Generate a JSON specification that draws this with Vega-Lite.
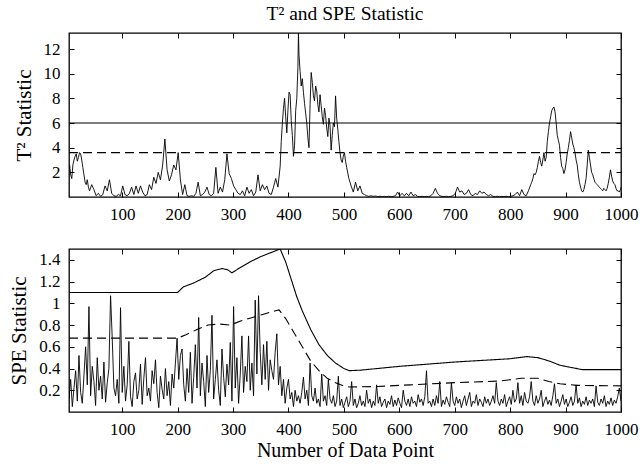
{
  "$schema": "https://vega.github.io/schema/vega-lite/v6.json",
  "background": "white",
  "padding": {"left": 8, "top": 3, "right": 5, "bottom": 3},
  "datasets": {
    "t2": [
      {"x":1,"y":1.9},{"x":5,"y":2.6},{"x":9,"y":1.5},{"x":13,"y":3.0},{"x":17,"y":3.5},{"x":21,"y":3.2},{"x":25,"y":3.5},{"x":29,"y":2.4},{"x":33,"y":1.2},{"x":37,"y":1.4},
      {"x":3,"y":2.1},{"x":7,"y":1.8},{"x":11,"y":2.6},{"x":15,"y":3.3},{"x":19,"y":2.9},{"x":23,"y":3.6},{"x":27,"y":3.0},{"x":31,"y":1.8},{"x":35,"y":1.0},{"x":39,"y":0.8},
      {"x":41,"y":0.5},{"x":45,"y":1.0},{"x":49,"y":0.6},{"x":53,"y":0.1},{"x":57,"y":0.3},{"x":61,"y":0.05},{"x":65,"y":0.2},{"x":69,"y":0.9},{"x":73,"y":0.5},{"x":77,"y":1.4},
      {"x":81,"y":0.3},{"x":85,"y":0.1},{"x":89,"y":0.05},{"x":93,"y":0.2},{"x":97,"y":0.1},{"x":101,"y":0.9},{"x":105,"y":0.2},{"x":109,"y":0.1},{"x":113,"y":0.3},{"x":117,"y":0.8},
      {"x":121,"y":0.2},{"x":125,"y":0.9},{"x":129,"y":0.3},{"x":133,"y":0.9},{"x":137,"y":0.4},{"x":141,"y":0.1},{"x":145,"y":0.2},{"x":149,"y":1.0},{"x":153,"y":0.6},{"x":157,"y":1.6},
      {"x":161,"y":1.1},{"x":165,"y":2.0},{"x":169,"y":1.4},{"x":173,"y":2.6},{"x":177,"y":4.7},{"x":181,"y":2.2},{"x":185,"y":1.3},{"x":189,"y":1.8},{"x":193,"y":2.6},{"x":197,"y":2.2},
      {"x":201,"y":3.6},{"x":205,"y":1.4},{"x":209,"y":0.2},{"x":213,"y":1.0},{"x":217,"y":0.1},{"x":221,"y":0.05},{"x":225,"y":0.1},{"x":229,"y":0.05},{"x":233,"y":0.3},{"x":237,"y":1.2},
      {"x":241,"y":0.1},{"x":245,"y":0.2},{"x":249,"y":0.4},{"x":253,"y":0.8},{"x":257,"y":0.2},{"x":261,"y":0.1},{"x":265,"y":0.3},{"x":269,"y":2.4},{"x":273,"y":0.3},{"x":277,"y":0.8},
      {"x":281,"y":0.4},{"x":285,"y":1.4},{"x":289,"y":3.5},{"x":293,"y":1.9},{"x":297,"y":1.5},{"x":301,"y":0.9},{"x":305,"y":0.6},{"x":309,"y":0.3},{"x":313,"y":0.2},{"x":317,"y":0.5},
      {"x":321,"y":0.1},{"x":325,"y":0.8},{"x":329,"y":0.3},{"x":333,"y":0.6},{"x":337,"y":0.1},{"x":341,"y":0.4},{"x":345,"y":1.8},{"x":349,"y":0.5},{"x":353,"y":1.0},{"x":357,"y":0.6},
      {"x":361,"y":0.9},{"x":365,"y":0.3},{"x":369,"y":0.2},{"x":373,"y":0.8},{"x":377,"y":1.5},{"x":381,"y":0.8},{"x":385,"y":2.5},{"x":389,"y":6.0},{"x":393,"y":8.0},{"x":397,"y":5.2},
      {"x":401,"y":8.5},{"x":405,"y":6.2},{"x":409,"y":3.3},{"x":413,"y":7.0},{"x":417,"y":10.5},{"x":418,"y":13.3},{"x":421,"y":10.2},{"x":425,"y":9.6},{"x":429,"y":7.6},{"x":433,"y":6.0},{"x":437,"y":4.0},
      {"x":441,"y":10.1},{"x":445,"y":8.2},{"x":449,"y":9.0},{"x":453,"y":7.5},{"x":457,"y":8.3},{"x":461,"y":6.5},{"x":465,"y":7.2},{"x":469,"y":5.6},{"x":473,"y":6.4},{"x":477,"y":3.8},
      {"x":481,"y":6.0},{"x":485,"y":8.2},{"x":489,"y":5.5},{"x":493,"y":3.6},{"x":497,"y":2.8},{"x":501,"y":3.6},{"x":505,"y":2.4},{"x":509,"y":1.5},{"x":513,"y":0.9},{"x":517,"y":0.4},
      {"x":387,"y":4.5},{"x":391,"y":7.2},{"x":395,"y":6.5},{"x":399,"y":7.0},{"x":403,"y":8.3},{"x":407,"y":5.0},{"x":411,"y":4.2},{"x":415,"y":8.0},{"x":419,"y":11.5},{"x":423,"y":9.0},
      {"x":427,"y":8.5},{"x":431,"y":6.8},{"x":435,"y":4.8},{"x":439,"y":7.5},{"x":443,"y":9.3},{"x":447,"y":7.8},{"x":451,"y":8.6},{"x":455,"y":6.9},{"x":459,"y":7.4},{"x":463,"y":5.9},
      {"x":467,"y":6.6},{"x":471,"y":4.9},{"x":475,"y":5.8},{"x":479,"y":5.0},{"x":483,"y":5.7},{"x":487,"y":6.4},{"x":491,"y":4.5},{"x":495,"y":3.0},{"x":499,"y":3.3},{"x":503,"y":2.9},
      {"x":521,"y":1.2},{"x":525,"y":0.5},{"x":529,"y":0.9},{"x":533,"y":0.3},{"x":537,"y":0.2},{"x":541,"y":0.1},{"x":545,"y":0.05},{"x":549,"y":0.1},{"x":553,"y":0.05},{"x":557,"y":0.08},
      {"x":561,"y":0.03},{"x":565,"y":0.06},{"x":569,"y":0.02},{"x":573,"y":0.05},{"x":577,"y":0.03},{"x":581,"y":0.06},{"x":585,"y":0.02},{"x":589,"y":0.05},{"x":593,"y":0.1},{"x":597,"y":0.4},
      {"x":601,"y":0.1},{"x":605,"y":0.3},{"x":609,"y":0.1},{"x":613,"y":0.3},{"x":617,"y":0.1},{"x":621,"y":0.4},{"x":625,"y":0.1},{"x":629,"y":0.2},{"x":633,"y":0.05},{"x":637,"y":0.03},
      {"x":641,"y":0.06},{"x":645,"y":0.02},{"x":649,"y":0.05},{"x":653,"y":0.03},{"x":657,"y":0.1},{"x":661,"y":0.3},{"x":665,"y":0.7},{"x":669,"y":0.3},{"x":673,"y":0.1},{"x":677,"y":0.05},
      {"x":681,"y":0.03},{"x":685,"y":0.06},{"x":689,"y":0.02},{"x":693,"y":0.05},{"x":697,"y":0.1},{"x":701,"y":0.3},{"x":705,"y":0.8},{"x":709,"y":0.4},{"x":713,"y":0.5},{"x":717,"y":0.2},
      {"x":721,"y":0.3},{"x":725,"y":0.6},{"x":729,"y":0.2},{"x":733,"y":0.1},{"x":737,"y":0.3},{"x":741,"y":0.2},{"x":745,"y":0.5},{"x":749,"y":0.3},{"x":753,"y":0.4},{"x":757,"y":0.2},
      {"x":761,"y":0.1},{"x":765,"y":0.2},{"x":769,"y":0.05},{"x":773,"y":0.03},{"x":777,"y":0.06},{"x":781,"y":0.02},{"x":785,"y":0.05},{"x":789,"y":0.03},{"x":793,"y":0.06},{"x":797,"y":0.02},
      {"x":801,"y":0.05},{"x":805,"y":0.1},{"x":809,"y":0.2},{"x":813,"y":0.4},{"x":817,"y":0.1},{"x":821,"y":0.6},{"x":825,"y":0.2},{"x":829,"y":0.1},{"x":833,"y":0.5},{"x":837,"y":1.0},
      {"x":841,"y":1.5},{"x":845,"y":1.8},{"x":849,"y":2.4},{"x":853,"y":3.3},{"x":857,"y":2.5},{"x":861,"y":3.6},{"x":865,"y":3.2},{"x":869,"y":5.3},{"x":873,"y":6.5},{"x":877,"y":7.2},
      {"x":881,"y":6.9},{"x":885,"y":5.0},{"x":889,"y":4.2},{"x":893,"y":2.5},{"x":897,"y":1.9},{"x":901,"y":2.8},{"x":905,"y":4.0},{"x":909,"y":5.3},{"x":913,"y":4.3},{"x":917,"y":3.6},
      {"x":921,"y":2.6},{"x":925,"y":1.2},{"x":929,"y":0.5},{"x":933,"y":0.6},{"x":937,"y":1.5},{"x":941,"y":3.8},{"x":945,"y":2.6},{"x":949,"y":1.8},{"x":953,"y":1.2},{"x":957,"y":1.0},
      {"x":961,"y":0.8},{"x":965,"y":0.6},{"x":969,"y":0.7},{"x":973,"y":0.5},{"x":977,"y":1.1},{"x":981,"y":2.2},{"x":985,"y":1.3},{"x":989,"y":1.0},{"x":993,"y":0.5},{"x":997,"y":0.4},{"x":1000,"y":0.8},
      {"x":839,"y":1.2},{"x":843,"y":1.9},{"x":847,"y":2.0},{"x":851,"y":2.9},{"x":855,"y":2.8},{"x":859,"y":3.0},{"x":863,"y":2.9},{"x":867,"y":4.5},{"x":871,"y":6.0},{"x":875,"y":7.0},
      {"x":879,"y":7.3},{"x":883,"y":6.0},{"x":887,"y":4.6},{"x":891,"y":3.2},{"x":895,"y":2.3},{"x":899,"y":2.2},{"x":903,"y":3.5},{"x":907,"y":4.6},{"x":911,"y":4.8},{"x":915,"y":4.0},
      {"x":919,"y":3.0},{"x":923,"y":1.8},{"x":927,"y":0.8},{"x":931,"y":0.4},{"x":935,"y":1.0},{"x":939,"y":2.6},{"x":943,"y":3.2},{"x":947,"y":2.0},{"x":951,"y":1.5},{"x":955,"y":1.1},
      {"x":959,"y":0.9},{"x":963,"y":0.7},{"x":967,"y":0.5},{"x":971,"y":0.6},{"x":975,"y":0.7},{"x":979,"y":1.6},{"x":983,"y":1.7},{"x":987,"y":1.1},{"x":991,"y":0.7},{"x":995,"y":0.5},{"x":999,"y":0.6}
    ],
    "t2lim": [
      {"x":4,"y":6,"limit":"99%"},{"x":1000,"y":6,"limit":"99%"},
      {"x":4,"y":3.6,"limit":"95%"},{"x":1000,"y":3.6,"limit":"95%"}
    ],
    "spe": [
      {"x":1,"y":0.45},{"x":4,"y":0.12},{"x":7,"y":0.30},{"x":10,"y":0.05},{"x":13,"y":0.22},{"x":16,"y":0.38},{"x":19,"y":0.10},{"x":22,"y":0.52},{"x":25,"y":0.18},{"x":28,"y":0.08},
      {"x":31,"y":0.34},{"x":34,"y":0.60},{"x":37,"y":0.25},{"x":40,"y":0.97},{"x":43,"y":0.15},{"x":46,"y":0.42},{"x":49,"y":0.28},{"x":52,"y":0.06},{"x":55,"y":0.50},{"x":58,"y":0.20},
      {"x":61,"y":0.33},{"x":64,"y":0.12},{"x":67,"y":0.46},{"x":70,"y":0.09},{"x":73,"y":0.27},{"x":76,"y":0.40},{"x":79,"y":1.07},{"x":82,"y":0.68},{"x":85,"y":0.22},{"x":88,"y":0.15},
      {"x":91,"y":0.30},{"x":94,"y":0.08},{"x":97,"y":0.96},{"x":100,"y":0.18},{"x":103,"y":0.42},{"x":106,"y":0.10},{"x":109,"y":0.25},{"x":112,"y":0.65},{"x":115,"y":0.14},{"x":118,"y":0.05},
      {"x":121,"y":0.28},{"x":124,"y":0.36},{"x":127,"y":0.12},{"x":130,"y":0.20},{"x":133,"y":0.44},{"x":136,"y":0.07},{"x":139,"y":0.31},{"x":142,"y":0.50},{"x":145,"y":0.15},{"x":148,"y":0.22},
      {"x":151,"y":0.10},{"x":154,"y":0.38},{"x":157,"y":0.26},{"x":160,"y":0.48},{"x":163,"y":0.18},{"x":166,"y":0.04},{"x":169,"y":0.33},{"x":172,"y":0.21},{"x":175,"y":0.12},{"x":178,"y":0.40},
      {"x":181,"y":0.15},{"x":184,"y":0.28},{"x":187,"y":0.06},{"x":190,"y":0.35},{"x":193,"y":0.22},{"x":196,"y":0.45},{"x":199,"y":0.68},{"x":202,"y":0.30},{"x":205,"y":0.52},{"x":208,"y":0.58},
      {"x":211,"y":0.25},{"x":214,"y":0.10},{"x":217,"y":0.40},{"x":220,"y":0.18},{"x":223,"y":0.55},{"x":226,"y":0.08},{"x":229,"y":0.32},{"x":232,"y":0.62},{"x":235,"y":0.22},{"x":238,"y":0.87},
      {"x":241,"y":0.15},{"x":244,"y":0.45},{"x":247,"y":0.28},{"x":250,"y":0.05},{"x":253,"y":0.52},{"x":256,"y":0.18},{"x":259,"y":0.38},{"x":262,"y":0.89},{"x":265,"y":0.12},{"x":268,"y":0.30},
      {"x":271,"y":0.48},{"x":274,"y":0.20},{"x":277,"y":0.06},{"x":280,"y":0.58},{"x":283,"y":0.32},{"x":286,"y":0.14},{"x":289,"y":0.44},{"x":292,"y":0.25},{"x":295,"y":0.64},{"x":298,"y":0.10},
      {"x":301,"y":0.97},{"x":304,"y":0.22},{"x":307,"y":0.50},{"x":310,"y":0.08},{"x":313,"y":0.35},{"x":316,"y":0.70},{"x":319,"y":0.18},{"x":322,"y":0.42},{"x":325,"y":0.28},{"x":328,"y":0.70},
      {"x":331,"y":0.20},{"x":334,"y":0.45},{"x":337,"y":0.15},{"x":340,"y":1.03},{"x":343,"y":0.35},{"x":346,"y":1.07},{"x":349,"y":0.55},{"x":352,"y":0.25},{"x":355,"y":0.62},{"x":358,"y":0.30},
      {"x":361,"y":0.65},{"x":364,"y":0.20},{"x":367,"y":0.48},{"x":370,"y":0.38},{"x":373,"y":0.30},{"x":376,"y":0.55},{"x":379,"y":0.72},{"x":382,"y":0.25},{"x":385,"y":0.42},{"x":388,"y":0.15},
      {"x":391,"y":0.30},{"x":394,"y":0.08},{"x":397,"y":0.22},{"x":400,"y":0.30},{"x":403,"y":0.12},{"x":406,"y":0.18},{"x":409,"y":0.05},{"x":412,"y":0.20},{"x":415,"y":0.10},{"x":418,"y":0.15},
      {"x":421,"y":0.08},{"x":424,"y":0.18},{"x":427,"y":0.32},{"x":430,"y":0.12},{"x":433,"y":0.20},{"x":436,"y":0.06},{"x":439,"y":0.45},{"x":442,"y":0.15},{"x":445,"y":0.10},{"x":448,"y":0.22},
      {"x":451,"y":0.08},{"x":454,"y":0.12},{"x":457,"y":0.05},{"x":460,"y":0.35},{"x":463,"y":0.10},{"x":466,"y":0.15},{"x":469,"y":0.06},{"x":472,"y":0.30},{"x":475,"y":0.12},{"x":478,"y":0.08},
      {"x":481,"y":0.15},{"x":484,"y":0.05},{"x":487,"y":0.10},{"x":490,"y":0.33},{"x":493,"y":0.06},{"x":496,"y":0.12},{"x":499,"y":0.04},{"x":502,"y":0.09},{"x":505,"y":0.14},{"x":508,"y":0.05},
      {"x":511,"y":0.10},{"x":514,"y":0.28},{"x":517,"y":0.06},{"x":520,"y":0.12},{"x":523,"y":0.04},{"x":526,"y":0.08},{"x":529,"y":0.15},{"x":532,"y":0.06},{"x":535,"y":0.10},{"x":538,"y":0.05},
      {"x":541,"y":0.20},{"x":544,"y":0.08},{"x":547,"y":0.12},{"x":550,"y":0.04},{"x":553,"y":0.10},{"x":556,"y":0.06},{"x":559,"y":0.25},{"x":562,"y":0.08},{"x":565,"y":0.14},{"x":568,"y":0.05},
      {"x":571,"y":0.09},{"x":574,"y":0.12},{"x":577,"y":0.04},{"x":580,"y":0.10},{"x":583,"y":0.07},{"x":586,"y":0.15},{"x":589,"y":0.05},{"x":592,"y":0.11},{"x":595,"y":0.06},{"x":598,"y":0.13},
      {"x":601,"y":0.08},{"x":604,"y":0.04},{"x":607,"y":0.20},{"x":610,"y":0.10},{"x":613,"y":0.06},{"x":616,"y":0.12},{"x":619,"y":0.05},{"x":622,"y":0.14},{"x":625,"y":0.08},{"x":628,"y":0.10},
      {"x":631,"y":0.05},{"x":634,"y":0.16},{"x":637,"y":0.09},{"x":640,"y":0.12},{"x":643,"y":0.06},{"x":646,"y":0.14},{"x":649,"y":0.38},{"x":652,"y":0.08},{"x":655,"y":0.10},{"x":658,"y":0.05},
      {"x":661,"y":0.12},{"x":664,"y":0.06},{"x":667,"y":0.15},{"x":670,"y":0.08},{"x":673,"y":0.28},{"x":676,"y":0.05},{"x":679,"y":0.11},{"x":682,"y":0.07},{"x":685,"y":0.14},{"x":688,"y":0.09},
      {"x":691,"y":0.05},{"x":694,"y":0.27},{"x":697,"y":0.10},{"x":700,"y":0.06},{"x":703,"y":0.14},{"x":706,"y":0.08},{"x":709,"y":0.12},{"x":712,"y":0.04},{"x":715,"y":0.10},{"x":718,"y":0.15},
      {"x":721,"y":0.06},{"x":724,"y":0.12},{"x":727,"y":0.18},{"x":730,"y":0.05},{"x":733,"y":0.10},{"x":736,"y":0.08},{"x":739,"y":0.16},{"x":742,"y":0.06},{"x":745,"y":0.12},{"x":748,"y":0.09},
      {"x":751,"y":0.05},{"x":754,"y":0.14},{"x":757,"y":0.08},{"x":760,"y":0.12},{"x":763,"y":0.06},{"x":766,"y":0.10},{"x":769,"y":0.15},{"x":772,"y":0.08},{"x":775,"y":0.27},{"x":778,"y":0.10},
      {"x":781,"y":0.06},{"x":784,"y":0.12},{"x":787,"y":0.08},{"x":790,"y":0.16},{"x":793,"y":0.05},{"x":796,"y":0.10},{"x":799,"y":0.14},{"x":802,"y":0.07},{"x":805,"y":0.20},{"x":808,"y":0.09},
      {"x":811,"y":0.12},{"x":814,"y":0.27},{"x":817,"y":0.08},{"x":820,"y":0.15},{"x":823,"y":0.06},{"x":826,"y":0.18},{"x":829,"y":0.10},{"x":832,"y":0.08},{"x":835,"y":0.14},{"x":838,"y":0.28},
      {"x":841,"y":0.10},{"x":844,"y":0.06},{"x":847,"y":0.15},{"x":850,"y":0.08},{"x":853,"y":0.12},{"x":856,"y":0.20},{"x":859,"y":0.05},{"x":862,"y":0.10},{"x":865,"y":0.14},{"x":868,"y":0.07},
      {"x":871,"y":0.11},{"x":874,"y":0.06},{"x":877,"y":0.15},{"x":880,"y":0.26},{"x":883,"y":0.08},{"x":886,"y":0.12},{"x":889,"y":0.05},{"x":892,"y":0.10},{"x":895,"y":0.16},{"x":898,"y":0.07},
      {"x":901,"y":0.12},{"x":904,"y":0.05},{"x":907,"y":0.09},{"x":910,"y":0.14},{"x":913,"y":0.06},{"x":916,"y":0.10},{"x":919,"y":0.25},{"x":922,"y":0.08},{"x":925,"y":0.13},{"x":928,"y":0.05},
      {"x":931,"y":0.10},{"x":934,"y":0.07},{"x":937,"y":0.14},{"x":940,"y":0.06},{"x":943,"y":0.11},{"x":946,"y":0.08},{"x":949,"y":0.12},{"x":952,"y":0.05},{"x":955,"y":0.24},{"x":958,"y":0.09},
      {"x":961,"y":0.06},{"x":964,"y":0.12},{"x":967,"y":0.08},{"x":970,"y":0.15},{"x":973,"y":0.05},{"x":976,"y":0.10},{"x":979,"y":0.07},{"x":982,"y":0.13},{"x":985,"y":0.06},{"x":988,"y":0.11},
      {"x":991,"y":0.08},{"x":994,"y":0.14},{"x":997,"y":0.22},{"x":1000,"y":0.10}
    ],
    "spelim": [
      {"x":4,"y":1.1,"limit":"99%"},{"x":200,"y":1.1,"limit":"99%"},{"x":210,"y":1.15,"limit":"99%"},{"x":230,"y":1.19,"limit":"99%"},{"x":250,"y":1.24,"limit":"99%"},{"x":265,"y":1.3,"limit":"99%"},{"x":280,"y":1.32,"limit":"99%"},{"x":290,"y":1.31,"limit":"99%"},{"x":298,"y":1.28,"limit":"99%"},{"x":310,"y":1.32,"limit":"99%"},{"x":330,"y":1.38,"limit":"99%"},{"x":350,"y":1.43,"limit":"99%"},{"x":370,"y":1.47,"limit":"99%"},{"x":385,"y":1.5,"limit":"99%"},{"x":395,"y":1.38,"limit":"99%"},{"x":405,"y":1.22,"limit":"99%"},{"x":415,"y":1.06,"limit":"99%"},{"x":425,"y":0.93,"limit":"99%"},{"x":440,"y":0.76,"limit":"99%"},{"x":455,"y":0.62,"limit":"99%"},{"x":470,"y":0.52,"limit":"99%"},{"x":485,"y":0.45,"limit":"99%"},{"x":500,"y":0.40,"limit":"99%"},{"x":510,"y":0.38,"limit":"99%"},{"x":530,"y":0.385,"limit":"99%"},{"x":600,"y":0.42,"limit":"99%"},{"x":650,"y":0.44,"limit":"99%"},{"x":700,"y":0.46,"limit":"99%"},{"x":750,"y":0.475,"limit":"99%"},{"x":800,"y":0.49,"limit":"99%"},{"x":830,"y":0.51,"limit":"99%"},{"x":850,"y":0.50,"limit":"99%"},{"x":870,"y":0.47,"limit":"99%"},{"x":890,"y":0.43,"limit":"99%"},{"x":910,"y":0.41,"limit":"99%"},{"x":930,"y":0.39,"limit":"99%"},{"x":1000,"y":0.39,"limit":"99%"},
      {"x":4,"y":0.68,"limit":"95%"},{"x":200,"y":0.68,"limit":"95%"},{"x":215,"y":0.71,"limit":"95%"},{"x":235,"y":0.76,"limit":"95%"},{"x":255,"y":0.80,"limit":"95%"},{"x":275,"y":0.81,"limit":"95%"},{"x":295,"y":0.80,"limit":"95%"},{"x":315,"y":0.84,"limit":"95%"},{"x":335,"y":0.87,"limit":"95%"},{"x":355,"y":0.90,"limit":"95%"},{"x":375,"y":0.93,"limit":"95%"},{"x":383,"y":0.94,"limit":"95%"},{"x":395,"y":0.86,"limit":"95%"},{"x":410,"y":0.73,"limit":"95%"},{"x":425,"y":0.60,"limit":"95%"},{"x":440,"y":0.47,"limit":"95%"},{"x":455,"y":0.38,"limit":"95%"},{"x":470,"y":0.31,"limit":"95%"},{"x":485,"y":0.27,"limit":"95%"},{"x":500,"y":0.24,"limit":"95%"},{"x":510,"y":0.23,"limit":"95%"},{"x":560,"y":0.235,"limit":"95%"},{"x":620,"y":0.25,"limit":"95%"},{"x":700,"y":0.27,"limit":"95%"},{"x":780,"y":0.285,"limit":"95%"},{"x":820,"y":0.31,"limit":"95%"},{"x":850,"y":0.31,"limit":"95%"},{"x":870,"y":0.28,"limit":"95%"},{"x":890,"y":0.26,"limit":"95%"},{"x":920,"y":0.245,"limit":"95%"},{"x":1000,"y":0.24,"limit":"95%"}
    ]
  },
  "vconcat": [
    {
      "title": {"text": "T² and SPE Statistic", "anchor": "middle", "frame": "group", "fontSize": 19.5, "fontWeight": "normal", "font": "Liberation Serif", "color": "black", "offset": 8},
      "width": 552,
      "height": 164,
      "layer": [
        {
          "data": {"name": "t2"},
          "mark": {"type": "line", "color": "black", "strokeWidth": 0.9, "clip": true},
          "encoding": {
            "x": {"field": "x", "type": "quantitative", "scale": {"domain": [4, 1000], "nice": false, "zero": false},
                  "axis": {"orient": "bottom", "values": [100,200,300,400,500,600,700,800,900,1000], "format": "d", "title": null}},
            "y": {"field": "y", "type": "quantitative", "scale": {"domain": [0, 13.3], "nice": false},
                  "axis": {"orient": "left", "values": [2,4,6,8,10,12], "title": "T² Statistic"}}
          }
        },
        {
          "data": {"name": "t2lim"},
          "mark": {"type": "line", "color": "black", "strokeWidth": 1.1, "clip": true},
          "encoding": {
            "x": {"field": "x", "type": "quantitative", "scale": {"domain": [4, 1000], "nice": false, "zero": false},
                  "axis": {"orient": "top", "values": [100,200,300,400,500,600,700,800,900,1000], "labels": false, "title": null}},
            "y": {"field": "y", "type": "quantitative", "scale": {"domain": [0, 13.3], "nice": false},
                  "axis": {"orient": "right", "values": [2,4,6,8,10,12], "labels": false, "title": null}},
            "strokeDash": {"field": "limit", "type": "nominal", "scale": {"domain": ["99%", "95%"], "range": [[1, 0], [9, 5]]}, "legend": null}
          }
        }
      ],
      "resolve": {"axis": {"x": "independent", "y": "independent"}}
    },
    {
      "width": 552,
      "height": 163,
      "layer": [
        {
          "data": {"name": "spe"},
          "mark": {"type": "line", "color": "black", "strokeWidth": 0.9, "clip": true},
          "encoding": {
            "x": {"field": "x", "type": "quantitative", "scale": {"domain": [4, 1000], "nice": false, "zero": false},
                  "axis": {"orient": "bottom", "values": [100,200,300,400,500,600,700,800,900,1000], "format": "d", "title": "Number of Data Point", "titlePadding": 3, "titleFontSize": 20}},
            "y": {"field": "y", "type": "quantitative", "scale": {"domain": [0, 1.5], "nice": false},
                  "axis": {"orient": "left", "values": [0.2,0.4,0.6,0.8,1,1.2,1.4], "format": "~g", "title": "SPE Statistic"}}
          }
        },
        {
          "data": {"name": "spelim"},
          "mark": {"type": "line", "color": "black", "strokeWidth": 1.1, "clip": true},
          "encoding": {
            "x": {"field": "x", "type": "quantitative", "scale": {"domain": [4, 1000], "nice": false, "zero": false},
                  "axis": {"orient": "top", "values": [100,200,300,400,500,600,700,800,900,1000], "labels": false, "title": null}},
            "y": {"field": "y", "type": "quantitative", "scale": {"domain": [0, 1.5], "nice": false},
                  "axis": {"orient": "right", "values": [0.2,0.4,0.6,0.8,1,1.2,1.4], "labels": false, "title": null}},
            "strokeDash": {"field": "limit", "type": "nominal", "scale": {"domain": ["99%", "95%"], "range": [[1, 0], [9, 5]]}, "legend": null},
            "detail": {"field": "limit"}
          }
        }
      ],
      "resolve": {"axis": {"x": "independent", "y": "independent"}}
    }
  ],
  "spacing": 24,
  "config": {
    "font": "Liberation Serif",
    "view": {"stroke": "black", "strokeWidth": 1.3},
    "axis": {
      "domain": false,
      "grid": false,
      "ticks": true,
      "tickColor": "black",
      "tickSize": -5,
      "tickWidth": 1,
      "labelFont": "Liberation Serif",
      "labelFontSize": 17,
      "labelColor": "black",
      "labelPadding": 14,
      "labelFlush": false,
      "titleFont": "Liberation Serif",
      "titleFontSize": 21,
      "titleFontWeight": "normal",
      "titleColor": "black",
      "titlePadding": 9
    }
  }
}
